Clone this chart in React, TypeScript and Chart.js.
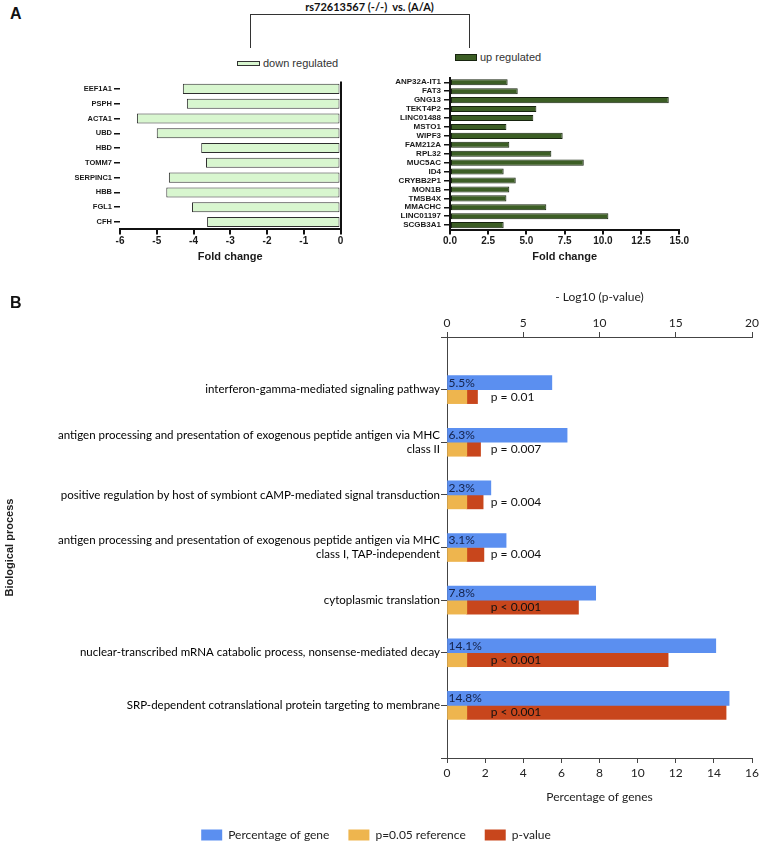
import React, { useEffect, useRef } from 'react';
import { Chart, registerables } from 'chart.js';

Chart.register(...registerables);

// ---------- Panel A (fold change) ----------
const downGenes = ['EEF1A1', 'PSPH', 'ACTA1', 'UBD', 'HBD', 'TOMM7', 'SERPINC1', 'HBB', 'FGL1', 'CFH'];
const downFold = [-4.29, -4.18, -5.54, -5.0, -3.79, -3.66, -4.67, -4.74, -4.04, -3.63];
const downTicks = [-6, -5, -4, -3, -2, -1, 0];

const upGenes = [
  'ANP32A-IT1', 'FAT3', 'GNG13', 'TEKT4P2', 'LINC01488', 'MSTO1', 'WIPF3', 'FAM212A', 'RPL32',
  'MUC5AC', 'ID4', 'CRYBB2P1', 'MON1B', 'TMSB4X', 'MMACHC', 'LINC01197', 'SCGB3A1',
];
const upFold = [3.77, 4.43, 14.31, 5.65, 5.45, 3.69, 7.37, 3.88, 6.63, 8.75, 3.51, 4.3, 3.88, 3.69, 6.3, 10.36, 3.51];
const upTicks = [0, 2.5, 5, 7.5, 10, 12.5, 15];

// ---------- Panel B (GO biological process) ----------
const processes: (string | string[])[] = [
  'interferon-gamma-mediated signaling pathway',
  ['antigen processing and presentation of exogenous peptide antigen via MHC', 'class II'],
  'positive regulation by host of symbiont cAMP-mediated signal transduction',
  ['antigen processing and presentation of exogenous peptide antigen via MHC', 'class I, TAP-independent'],
  'cytoplasmic translation',
  'nuclear-transcribed mRNA catabolic process, nonsense-mediated decay',
  'SRP-dependent cotranslational protein targeting to membrane',
];
const genePercent = [5.5, 6.3, 2.3, 3.1, 7.8, 14.1, 14.8];
const refNegLog = [1.3, 1.3, 1.3, 1.3, 1.3, 1.3, 1.3];
const pNegLog = [2.0, 2.2, 2.37, 2.42, 8.62, 14.5, 18.3];
const pLabels = ['p = 0.01', 'p = 0.007', 'p = 0.004', 'p = 0.004', 'p < 0.001', 'p < 0.001', 'p < 0.001'];
const pctTicks = [0, 2, 4, 6, 8, 10, 12, 14, 16];
const logTicks = [0, 5, 10, 15, 20];

const SANS = '"Liberation Sans", Arial, Helvetica, sans-serif';
const CAL = 'Lato, "Open Sans", sans-serif';

const fixedTicks = (vals: number[]) => (s: any) => {
  s.ticks = vals.map((v) => ({ value: v }));
};

function ChartBox({ left, top, width, height, config }: any) {
  const ref = useRef<HTMLCanvasElement | null>(null);
  useEffect(() => {
    if (!ref.current) return;
    const chart = new Chart(ref.current, config());
    return () => chart.destroy();
  }, []);
  return (
    <div style={{ position: 'absolute', left, top, width, height }}>
      <canvas ref={ref} width={width} height={height} style={{ display: 'block', width, height }} />
    </div>
  );
}

const leftConfig = (): any => ({
  type: 'bar',
  data: {
    labels: downGenes,
    datasets: [
      {
        label: 'down regulated',
        data: downFold,
        backgroundColor: '#d8f6cf',
        borderColor: '#2e2e2e',
        borderWidth: 1,
        borderSkipped: false,
        barPercentage: 0.68,
        categoryPercentage: 1,
      },
    ],
  },
  options: {
    indexAxis: 'y',
    animation: false,
    responsive: false,
    devicePixelRatio: 1,
    events: [],
    layout: { padding: { left: 0, right: 9.5, top: 6, bottom: 0 } },
    plugins: { legend: { display: false }, tooltip: { enabled: false } },
    scales: {
      x: {
        type: 'linear',
        min: -6,
        max: 0,
        afterBuildTicks: fixedTicks(downTicks),
        grid: {
          color: (c: any) => (c.tick && c.tick.value === 0 ? '#111' : 'rgba(0,0,0,0)'),
          tickColor: '#111',
          lineWidth: 2,
          tickLength: 5,
        },
        border: { display: true, color: '#111', width: 2 },
        ticks: { color: '#1a1a1a', font: { family: SANS, size: 10, weight: 'bold' }, padding: 1, maxRotation: 0 },
        title: {
          display: true,
          text: 'Fold change',
          color: '#1a1a1a',
          font: { family: SANS, size: 11, weight: 'bold' },
          padding: { top: 0, bottom: 6.4 },
        },
        afterFit: (s: any) => {
          s.height = 40.6;
        },
      },
      y: {
        grid: { display: true, drawOnChartArea: false, offset: false, color: '#111', lineWidth: 1.5, tickLength: 6 },
        border: { display: false },
        ticks: { color: '#1a1a1a', font: { family: SANS, size: 7.5, weight: 'bold' }, padding: 2, autoSkip: false },
        afterFit: (s: any) => {
          s.width = 80;
        },
      },
    },
  },
});

const rightConfig = (): any => ({
  type: 'bar',
  data: {
    labels: upGenes,
    datasets: [
      {
        label: 'up regulated',
        data: upFold,
        backgroundColor: '#3c5e25',
        borderColor: '#17240f',
        borderWidth: 1,
        borderSkipped: false,
        barPercentage: 0.68,
        categoryPercentage: 1,
      },
    ],
  },
  options: {
    indexAxis: 'y',
    animation: false,
    responsive: false,
    devicePixelRatio: 1,
    events: [],
    layout: { padding: { left: 0, right: 15.7, top: 5, bottom: 0 } },
    plugins: { legend: { display: false }, tooltip: { enabled: false } },
    scales: {
      x: {
        type: 'linear',
        min: 0,
        max: 15,
        afterBuildTicks: fixedTicks(upTicks),
        grid: { drawOnChartArea: false, color: '#111', lineWidth: 2, tickLength: 5 },
        border: { display: true, color: '#111', width: 2 },
        ticks: {
          color: '#1a1a1a',
          font: { family: SANS, size: 10, weight: 'bold' },
          padding: 1,
          maxRotation: 0,
          callback: (v: any) => Number(v).toFixed(1),
        },
        title: {
          display: true,
          text: 'Fold change',
          color: '#1a1a1a',
          font: { family: SANS, size: 11, weight: 'bold' },
          padding: { top: 0, bottom: 6.4 },
        },
        afterFit: (s: any) => {
          s.height = 40.4;
        },
      },
      y: {
        grid: { display: true, drawOnChartArea: false, offset: false, color: '#111', lineWidth: 1.5, tickLength: 6 },
        border: { display: true, color: '#111', width: 2 },
        ticks: { color: '#1a1a1a', font: { family: SANS, size: 8, weight: 'bold' }, padding: 3, autoSkip: false },
        afterFit: (s: any) => {
          s.width = 65;
        },
      },
    },
  },
});

const pad = (arr: any[]) => [null, ...arr, null];

const barLabelsPlugin = {
  id: 'barLabels',
  afterDatasetsDraw(chart: any) {
    const ctx = chart.ctx;
    const pctMeta = chart.getDatasetMeta(0);
    const pMeta = chart.getDatasetMeta(2);
    const x2 = chart.scales.x2;
    ctx.save();
    ctx.font = `12px ${CAL}`;
    ctx.textBaseline = 'middle';
    ctx.textAlign = 'left';
    genePercent.forEach((v, i) => {
      const bar = pctMeta.data[i + 1];
      if (!bar) return;
      ctx.fillStyle = '#14224a';
      ctx.fillText(`${v}%`, bar.base + 1, bar.y);
    });
    pLabels.forEach((t, i) => {
      const bar = pMeta.data[i + 1];
      if (!bar) return;
      ctx.fillStyle = '#111';
      ctx.fillText(t, x2.getPixelForValue(refNegLog[i]) + 24, bar.y);
    });
    ctx.restore();
  },
};

const goConfig = (): any => ({
  type: 'bar',
  data: {
    labels: ['', ...processes, ''],
    datasets: [
      {
        label: 'Percentage of gene',
        data: pad(genePercent),
        xAxisID: 'x',
        stack: 'pct',
        backgroundColor: '#5b8ff0',
        borderWidth: 0,
        barThickness: 14,
      },
      {
        label: 'p=0.05 reference',
        data: pad(refNegLog.map((r) => [0, r])),
        xAxisID: 'x2',
        stack: 'p',
        backgroundColor: '#eeb54e',
        borderWidth: 0,
        barThickness: 14,
      },
      {
        label: 'p-value',
        data: pad(pNegLog.map((v, i) => [refNegLog[i], v])),
        xAxisID: 'x2',
        stack: 'p',
        backgroundColor: '#c8461c',
        borderWidth: 0,
        barThickness: 14,
      },
    ],
  },
  plugins: [barLabelsPlugin],
  options: {
    indexAxis: 'y',
    animation: false,
    responsive: false,
    devicePixelRatio: 1,
    events: [],
    layout: { padding: { left: 0, right: 12, top: 0, bottom: 0 } },
    plugins: {
      tooltip: { enabled: false },
      legend: {
        position: 'bottom',
        labels: { boxWidth: 21, boxHeight: 11, padding: 19, color: '#222', font: { family: CAL, size: 12 } },
      },
    },
    scales: {
      y: {
        type: 'category',
        offset: false,
        grid: { display: true, drawOnChartArea: false, offset: false, color: '#444', tickLength: 6 },
        border: { display: true, color: '#444', width: 1 },
        ticks: { autoSkip: false, color: '#000', font: { family: CAL, size: 11.5 }, padding: 1 },
        title: {
          display: true,
          text: 'Biological process',
          color: '#222',
          font: { family: SANS, size: 11, weight: 'bold' },
          padding: { top: 3.4, bottom: 0 },
        },
        afterFit: (s: any) => {
          s.width = 447;
        },
      },
      x: {
        type: 'linear',
        position: 'bottom',
        stacked: false,
        min: 0,
        max: 16,
        afterBuildTicks: fixedTicks(pctTicks),
        grid: { drawOnChartArea: false, color: '#444', tickLength: 5 },
        border: { display: true, color: '#444', width: 1 },
        ticks: { color: '#222', font: { family: CAL, size: 12 }, padding: 3, maxRotation: 0 },
        title: {
          display: true,
          text: 'Percentage of genes',
          color: '#222',
          font: { family: CAL, size: 12 },
          padding: { top: 0, bottom: 5.8 },
        },
        afterFit: (s: any) => {
          s.height = 52;
        },
      },
      x2: {
        type: 'linear',
        position: 'top',
        stacked: false,
        min: 0,
        max: 20,
        afterBuildTicks: fixedTicks(logTicks),
        grid: { drawOnChartArea: false, color: '#444', tickLength: 5 },
        border: { display: true, color: '#444', width: 1 },
        ticks: { color: '#222', font: { family: CAL, size: 12 }, padding: 2, maxRotation: 0 },
        title: {
          display: true,
          text: '- Log10 (p-value)',
          color: '#222',
          font: { family: CAL, size: 12 },
          padding: { top: 11.8, bottom: 0 },
        },
        afterFit: (s: any) => {
          s.height = 59;
        },
      },
    },
  },
});

export default function App() {
  return (
    <div
      style={{
        position: 'absolute',
        left: 0,
        top: 0,
        width: 764,
        height: 851,
        background: '#fff',
        overflow: 'hidden',
        fontFamily: SANS,
      }}
    >
      <ChartBox left={40} top={75} width={310} height={195} config={leftConfig} />
      <ChartBox left={385} top={70} width={310} height={200} config={rightConfig} />
      <ChartBox left={0} top={278} width={764} height={573} config={goConfig} />

      <div style={{ position: 'absolute', left: 10, top: 6, fontSize: 16, lineHeight: '16px', fontWeight: 'bold', color: '#111' }}>A</div>
      <div style={{ position: 'absolute', left: 10, top: 295, fontSize: 16, lineHeight: '16px', fontWeight: 'bold', color: '#111' }}>B</div>

      <div
        style={{
          position: 'absolute',
          left: 269.5,
          top: 1,
          width: 200,
          textAlign: 'center',
          fontFamily: CAL,
          fontWeight: 'bold',
          fontSize: 11,
          lineHeight: '12px',
          color: '#111',
          whiteSpace: 'pre',
        }}
      >
        rs72613567 (-/-)  vs. (A/A)
      </div>
      <div
        style={{
          position: 'absolute',
          left: 250,
          top: 13.5,
          width: 219.5,
          height: 34,
          boxSizing: 'border-box',
          borderTop: '1.5px solid #333',
          borderLeft: '1.5px solid #333',
          borderRight: '1.5px solid #333',
        }}
      />

      <div
        style={{
          position: 'absolute',
          left: 237,
          top: 60.5,
          width: 23,
          height: 5,
          boxSizing: 'border-box',
          background: '#d8f6cf',
          border: '1px solid #333',
        }}
      />
      <div style={{ position: 'absolute', left: 263, top: 56.5, fontSize: 11, lineHeight: '13px', color: '#333' }}>
        down regulated
      </div>

      <div
        style={{
          position: 'absolute',
          left: 455,
          top: 54,
          width: 22,
          height: 6.5,
          boxSizing: 'border-box',
          background: '#3c5e25',
          border: '1px solid #17240f',
        }}
      />
      <div style={{ position: 'absolute', left: 480, top: 51, fontSize: 11, lineHeight: '13px', color: '#333' }}>
        up regulated
      </div>
    </div>
  );
}
